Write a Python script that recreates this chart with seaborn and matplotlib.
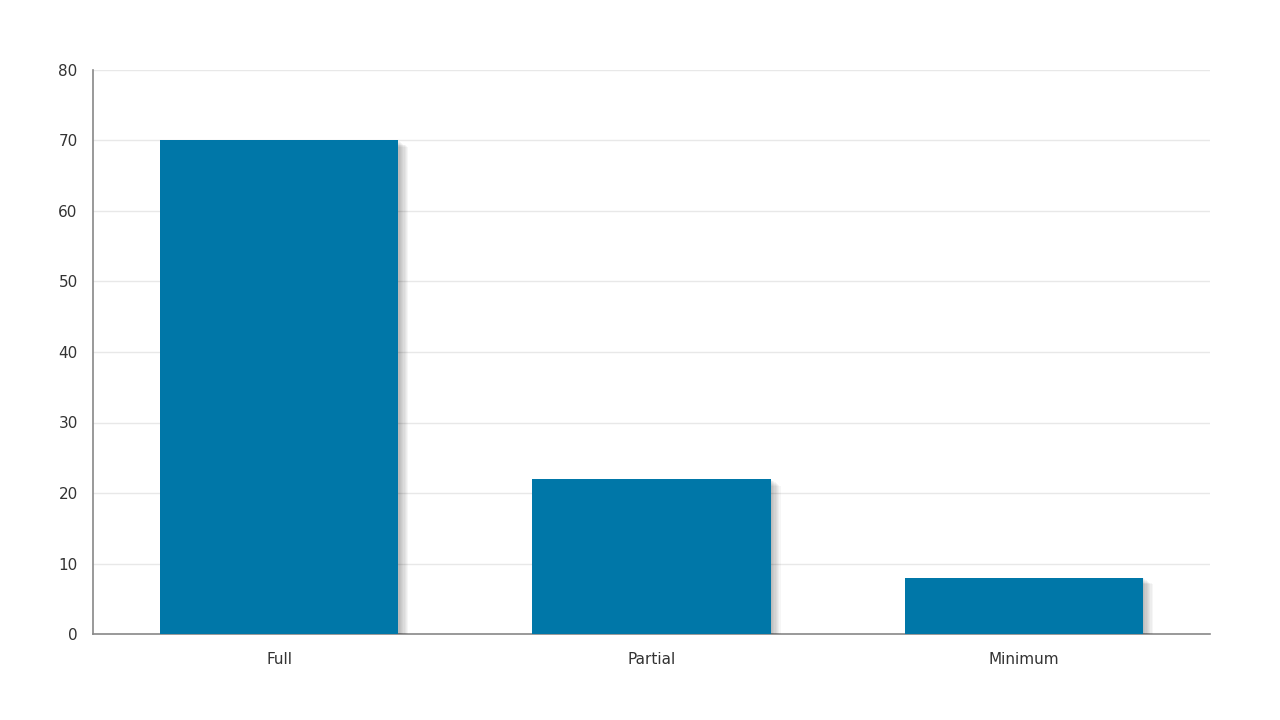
import matplotlib
matplotlib.use("Agg")
import matplotlib.pyplot as plt
import matplotlib.patheffects as pe
import seaborn as sns
import pandas as pd

categories = ["Full", "Partial", "Minimum"]
values = [70, 22, 8]

sns.set_theme(style="white")
plt.rcParams['font.family'] = ['DejaVu Sans']

df = pd.DataFrame({"cat": categories, "val": values})

fig = plt.figure(figsize=(12.8, 7.2), dpi=100)
ax = fig.add_axes([93/1280, 1-634/720, (1210-93)/1280, (634-70)/720])

sns.barplot(data=df, x="cat", y="val", color="#0077A8", saturation=1,
            width=0.64, ax=ax, zorder=3)
effects = []
for i in range(8, 0, -1):
    effects.append(pe.SimplePatchShadow(offset=(i * 0.9, -i * 0.6),
                                        shadow_rgbFace="#000000", alpha=0.035))
effects.append(pe.Normal())
for p in ax.patches:
    p.set_edgecolor("none")
    p.set_path_effects(effects)

ax.set_ylim(0, 80)
ax.set_xlim(-0.5, 2.5)
ax.set_yticks(range(0, 81, 10))
ax.yaxis.grid(True, color="#e8e8e8", linewidth=1, zorder=0)
ax.set_axisbelow(True)
ax.set_xlabel("")
ax.set_ylabel("")
for s in ["top", "right"]:
    ax.spines[s].set_visible(False)
ax.spines["left"].set_color("#888888")
ax.spines["bottom"].set_color("#888888")
ax.spines["left"].set_linewidth(1.2)
ax.spines["bottom"].set_linewidth(1.2)
ax.tick_params(axis="y", length=0, pad=11, labelsize=11, labelcolor="#333333")
ax.tick_params(axis="x", length=0, pad=13, labelsize=11, labelcolor="#333333")

fig.savefig("out.png", dpi=100)
